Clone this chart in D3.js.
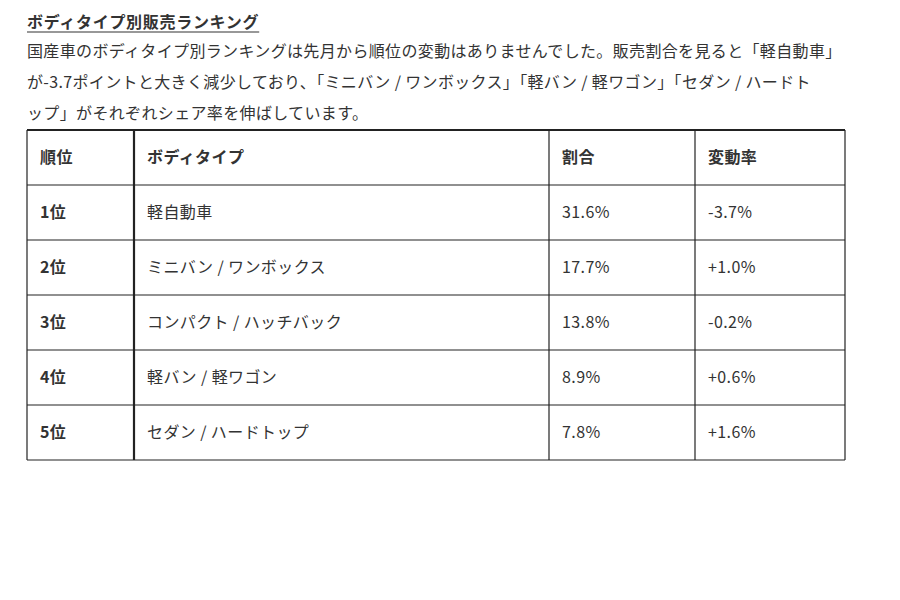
<!DOCTYPE html>
<html><head><meta charset="utf-8">
<script src="https://cdn.jsdelivr.net/npm/d3@7"></script>
<style>body{margin:0;background:#fff;font-family:"Noto Sans CJK JP",sans-serif;}</style>
</head><body><svg id="c" width="900" height="600"></svg>
<script>
const title = "ボディタイプ別販売ランキング";
const paragraph = [
 "国産車のボディタイプ別ランキングは先月から順位の変動はありませんでした。販売割合を見ると「軽自動車」",
 "が-3.7ポイントと大きく減少しており、「ミニバン / ワンボックス」「軽バン / 軽ワゴン」「セダン / ハードト",
 "ップ」がそれぞれシェア率を伸ばしています。"
];
const headers = ["順位","ボディタイプ","割合","変動率"];
const ranks = ["1位","2位","3位","4位","5位"];
const bodyTypes = ["軽自動車","ミニバン / ワンボックス","コンパクト / ハッチバック","軽バン / 軽ワゴン","セダン / ハードトップ"];
const shares = [31.6,17.7,13.8,8.9,7.8];
const changes = [-3.7,1.0,-0.2,0.6,1.6];

const svg = d3.select("#c");
const fam = '"Noto Sans CJK JP",sans-serif';
const t = svg.append("text").attr("x",27).attr("y",28).attr("font-size",16).attr("font-weight","bold")
  .attr("letter-spacing",0.7).attr("fill","#333").attr("font-family",fam).text(title);
const tw = t.node().getComputedTextLength();
svg.append("line").attr("x1",27).attr("x2",27+tw).attr("y1",32).attr("y2",32).attr("stroke","#333").attr("stroke-width",1.2);
svg.selectAll("text.p").data(paragraph).join("text").attr("class","p")
  .attr("x",27).attr("y",(d,i)=>57+i*31).attr("font-size",16).attr("letter-spacing",0.35)
  .attr("fill","#333").attr("font-family",fam).text(d=>d);

const rows = [headers, ...ranks.map((r,i)=>[r, bodyTypes[i], shares[i].toFixed(1)+"%", (changes[i]>0?"+":"")+changes[i].toFixed(1)+"%"])];
const colEdges = [27,134,549,695,845];
const y = d3.scaleBand().domain(d3.range(rows.length)).range([130,460]);
const g = svg.append("g");
rows.forEach((row,ri)=>{
  row.forEach((cell,ci)=>{
    g.append("text").attr("x",colEdges[ci]+13).attr("y",y(ri)+y.bandwidth()/2+5)
      .attr("font-size",16).attr("fill","#333").attr("font-family",fam).attr("letter-spacing",0.4)
      .attr("font-weight",(ri===0||ci===0)?"bold":"normal").text(cell);
  });
});
d3.range(rows.length+1).forEach(i=>{
  const yy = i<rows.length? y(i): 460;
  g.append("line").attr("x1",27).attr("x2",845).attr("y1",yy).attr("y2",yy)
   .attr("stroke","#222").attr("stroke-width",(i===0)?2:1.2);
});
colEdges.forEach((x,i)=>{
  g.append("line").attr("x1",x).attr("x2",x).attr("y1",130).attr("y2",460)
   .attr("stroke","#222").attr("stroke-width",i===1?2.2:1.2);
});
</script></body></html>
